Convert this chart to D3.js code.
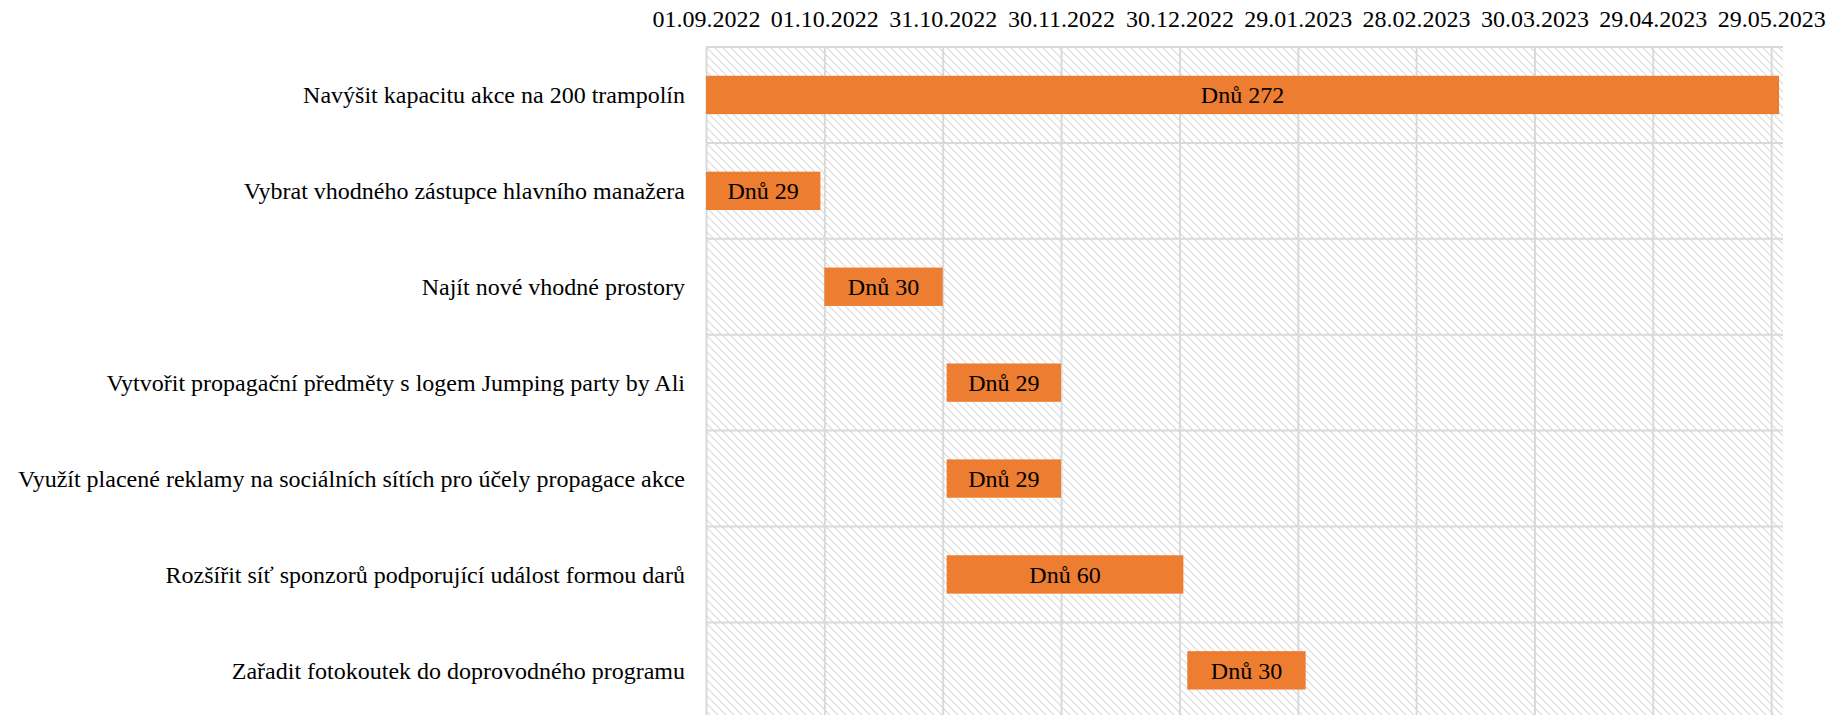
<!DOCTYPE html>
<html>
<head>
<meta charset="utf-8">
<script src="https://cdn.jsdelivr.net/npm/d3@7"></script>
<style>
  body { margin: 0; background: #fff; }
  text { font-family: "Liberation Serif", "Times New Roman", serif; fill: #000; }
</style>
</head>
<body>
<div id="chart"></div>
<script>
(function () {

  // task names, top to bottom
  const tasks = [
    "Navýšit kapacitu akce na 200 trampolín",
    "Vybrat vhodného zástupce hlavního manažera",
    "Najít nové vhodné prostory",
    "Vytvořit propagační předměty s logem Jumping party by Ali",
    "Využít placené reklamy na sociálních sítích pro účely propagace akce",
    "Rozšířit síť sponzorů podporující událost formou darů",
    "Zařadit fotokoutek do doprovodného programu"
  ]
  const startDates = ["01.09.2022", "01.09.2022", "01.10.2022", "01.11.2022", "01.11.2022", "01.11.2022", "01.01.2023"]
  const durations = [272, 29, 30, 29, 29, 60, 30]

  const tickLabels = ["01.09.2022", "01.10.2022", "31.10.2022", "30.11.2022", "30.12.2022",
    "29.01.2023", "28.02.2023", "30.03.2023", "29.04.2023", "29.05.2023"]
  const axisMin = "01.09.2022"
  const axisMax = "01.06.2023"

  const parse = d3.utcParse("%d.%m.%Y")
  const fmt = d3.utcFormat("%d.%m.%Y")

  const W = 1843, H = 715
  const margin = { top: 47, left: 706, right: 60 }
  const plotW = W - margin.left - margin.right
  const plotH = 671.3

  const svg = d3.select("#chart").append("svg")
    .attr("width", W)
    .attr("height", H)

  // light downward diagonal fill of the plot area
  const pat = svg.append("defs").append("pattern")
    .attr("id", "hatch")
    .attr("patternUnits", "userSpaceOnUse")
    .attr("width", 8)
    .attr("height", 8)
  pat.append("path")
    .attr("d", "M-2,-2L10,10M-2,6L2,10M6,-2L10,2")
    .attr("stroke", "#dadada")
    .attr("stroke-width", 1.2)

  const g = svg.append("g")
    .attr("transform", "translate(" + margin.left + "," + margin.top + ")")

  const xPositionScale = d3.scaleUtc()
    .domain([parse(axisMin), parse(axisMax)])
    .range([0, plotW])

  const yPositionScale = d3.scaleBand()
    .domain(tasks)
    .range([0, plotH])

  g.append("rect")
    .attr("width", plotW)
    .attr("height", plotH)
    .attr("fill", "url(#hatch)")

  // horizontal gridlines between the rows
  g.selectAll(".hgrid")
    .data(d3.range(tasks.length + 1))
    .join("line")
    .attr("class", "hgrid")
    .attr("x1", 0)
    .attr("x2", plotW)
    .attr("y1", i => i * yPositionScale.step())
    .attr("y2", i => i * yPositionScale.step())
    .attr("stroke", "#d9d9d9")
    .attr("stroke-width", 2)

  const xAxis = d3.axisTop(xPositionScale)
    .tickValues(tickLabels.map(parse))
    .tickFormat(fmt)
    .tickSize(-plotH)
    .tickPadding(20)

  const ax = g.append("g")
    .attr("class", "axis x-axis")
    .call(xAxis)
  ax.select(".domain").remove()
  ax.selectAll("line").attr("stroke", "#d9d9d9").attr("stroke-width", 2)
  ax.selectAll("text").attr("font-size", 24).attr("font-family", "Liberation Serif").attr("fill", "#000")

  const rows = tasks.map((t, i) => {
    const s = parse(startDates[i])
    return { task: t, start: s, end: d3.utcDay.offset(s, durations[i]), days: durations[i] }
  })

  const barH = yPositionScale.bandwidth() * 0.4

  g.selectAll(".bar")
    .data(rows)
    .join("rect")
    .attr("class", "bar")
    .attr("x", d => xPositionScale(d.start))
    .attr("width", d => xPositionScale(d.end) - xPositionScale(d.start))
    .attr("y", d => yPositionScale(d.task) + (yPositionScale.bandwidth() - barH) / 2)
    .attr("height", barH)
    .attr("fill", "#ed7d31")

  g.selectAll(".bar-label")
    .data(rows)
    .join("text")
    .attr("class", "bar-label")
    .attr("x", d => (xPositionScale(d.start) + xPositionScale(d.end)) / 2)
    .attr("y", d => yPositionScale(d.task) + yPositionScale.bandwidth() / 2)
    .attr("dy", "0.35em")
    .attr("text-anchor", "middle")
    .attr("font-size", 24)
    .text(d => "Dnů " + d.days)

  // task names on the left
  g.selectAll(".cat")
    .data(tasks)
    .join("text")
    .attr("class", "cat")
    .attr("x", -21)
    .attr("y", d => yPositionScale(d) + yPositionScale.bandwidth() / 2)
    .attr("dy", "0.35em")
    .attr("text-anchor", "end")
    .attr("font-size", 24)
    .text(d => d)

})();
</script>
</body>
</html>
